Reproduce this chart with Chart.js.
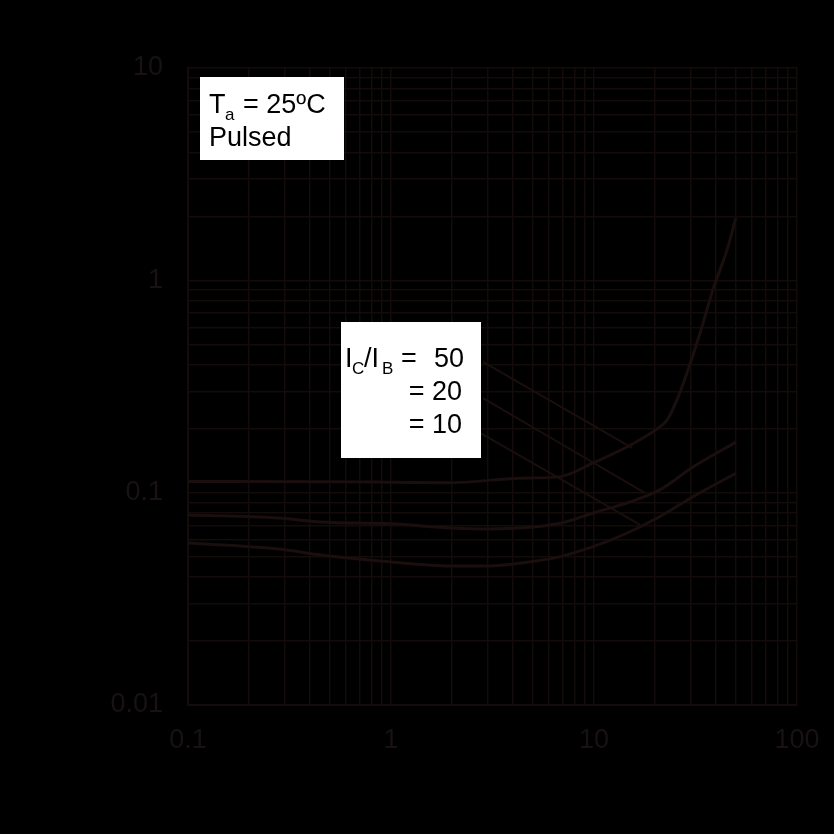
<!DOCTYPE html>
<html>
<head>
<meta charset="utf-8">
<script src="https://cdn.jsdelivr.net/npm/chart.js@4/dist/chart.umd.min.js"></script>
<style>
  html, body { margin: 0; padding: 0; background: #000; }
  #wrap { width: 834px; height: 834px; }
</style>
</head>
<body>
<div id="wrap"><canvas id="c" width="834" height="834"></canvas></div>
<script>
// ---- data ----
const xTickLabels = ['0.1', '1', '10', '100'];
const yTickLabels = ['0.01', '0.1', '1', '10'];

const ic50_x = [0.1, 0.45, 1, 2, 4.3, 6.8, 9.9, 14.5, 21.1, 22.9, 25.6, 28.7, 33.3, 38.5, 45.2, 50];
const ic50_y = [0.113, 0.1125, 0.112, 0.1115, 0.117, 0.119, 0.138, 0.164, 0.204, 0.220, 0.273, 0.366, 0.565, 0.901, 1.39, 1.97];

const ic20_x = [0.1, 0.28, 0.45, 1, 2, 3, 6.8, 9.9, 14.5, 21.1, 30.7, 50];
const ic20_y = [0.0785, 0.076, 0.0728, 0.0713, 0.0682, 0.0675, 0.0717, 0.0802, 0.0894, 0.103, 0.132, 0.173];

const ic10_x = [0.1, 0.28, 0.45, 0.88, 2, 3, 5.2, 6.8, 9.9, 14.5, 21.1, 30.7, 50];
const ic10_y = [0.058, 0.0543, 0.0509, 0.0477, 0.0452, 0.0452, 0.0477, 0.050, 0.0557, 0.0644, 0.0771, 0.0957, 0.1234];

// leader lines from the label box to each curve
const lead50_x = [2.84, 15.4];  const lead50_y = [0.413, 0.1624];
const lead20_x = [2.84, 17.8];  const lead20_y = [0.279, 0.0997];
const lead10_x = [2.71, 16.9];  const lead10_y = [0.193, 0.0705];

// ---- helpers ----
const pts = (xs, ys) => xs.map((x, i) => ({ x: x, y: ys[i] }));
const xMajors = xTickLabels.map(parseFloat);
const yMajors = yTickLabels.map(parseFloat);
function gridValues(majors) {
  const out = [];
  for (let d = 0; d < majors.length - 1; d++) {
    for (let k = 1; k <= 9; k++) out.push(+(majors[d] * k).toPrecision(6));
  }
  out.push(majors[majors.length - 1]);
  return out;
}
function labelFor(v, majors, labels) {
  const i = majors.findIndex(t => Math.abs(t - v) / t < 1e-6);
  return i >= 0 ? labels[i] : '';
}

const curveColor = 'rgb(26,14,14)';
const gridColor = 'rgb(20,11,11)';
const textColor = 'rgb(24,18,18)';
const FONT = '"Liberation Sans", Arial, sans-serif';

const bgPlugin = {
  id: 'bg',
  beforeDraw(chart) {
    const ctx = chart.ctx;
    ctx.save();
    ctx.fillStyle = '#000';
    ctx.fillRect(0, 0, chart.width, chart.height);
    ctx.restore();
  }
};

const notePlugin = {
  id: 'notes',
  afterDatasetsDraw(chart) {
    const ctx = chart.ctx;
    ctx.save();
    // box 1
    ctx.fillStyle = '#fff';
    ctx.fillRect(200, 77, 144, 83);
    ctx.fillStyle = '#000';
    ctx.textBaseline = 'alphabetic';
    ctx.textAlign = 'left';
    ctx.font = '27px ' + FONT;
    ctx.fillText('T', 209, 113);
    ctx.font = '17px ' + FONT;
    ctx.fillText('a', 225, 120);
    ctx.font = '27px ' + FONT;
    ctx.fillText('= 25ºC', 243, 113);
    ctx.fillText('Pulsed', 209, 146);

    // box 2
    ctx.fillStyle = '#fff';
    ctx.fillRect(341, 322, 140, 136);
    ctx.fillStyle = '#000';
    ctx.font = '27px ' + FONT;
    ctx.fillText('I', 345, 367);
    ctx.font = '17px ' + FONT;
    ctx.fillText('C', 352, 374);
    ctx.font = '27px ' + FONT;
    ctx.fillText('/I', 364, 367);
    ctx.font = '17px ' + FONT;
    ctx.fillText('B', 382, 374);
    ctx.font = '27px ' + FONT;
    ctx.fillText('=', 401, 367);
    ctx.textAlign = 'right';
    ctx.fillText('50', 464, 367);
    ctx.fillText('= 20', 462, 400);
    ctx.fillText('= 10', 462, 433);
    ctx.restore();
  }
};

const lineDs = (label, data, width) => ({
  label: label,
  data: data,
  borderColor: curveColor,
  backgroundColor: curveColor,
  borderWidth: width,
  pointRadius: 0,
  fill: false,
  cubicInterpolationMode: 'monotone'
});

new Chart(document.getElementById('c'), {
  type: 'line',
  data: {
    datasets: [
      lineDs('IC/IB = 50', pts(ic50_x, ic50_y), 3),
      lineDs('IC/IB = 20', pts(ic20_x, ic20_y), 3),
      lineDs('IC/IB = 10', pts(ic10_x, ic10_y), 3),
      lineDs('lead 50', pts(lead50_x, lead50_y), 2),
      lineDs('lead 20', pts(lead20_x, lead20_y), 2),
      lineDs('lead 10', pts(lead10_x, lead10_y), 2)
    ]
  },
  options: {
    responsive: false,
    animation: false,
    devicePixelRatio: 1,
    layout: { padding: { top: 68, right: 37, bottom: 0, left: 0 } },
    plugins: { legend: { display: false }, tooltip: { enabled: false } },
    scales: {
      x: {
        type: 'logarithmic',
        min: xMajors[0],
        max: xMajors[xMajors.length - 1],
        afterBuildTicks(scale) { scale.ticks = gridValues(xMajors).map(v => ({ value: v })); },
        afterFit(scale) { scale.height = 129; scale.paddingLeft = 0; scale.paddingRight = 0; },
        grid: { color: gridColor, lineWidth: 1.5, drawTicks: false },
        border: { color: gridColor, width: 2 },
        ticks: {
          autoSkip: false, maxRotation: 0, padding: 19,
          color: textColor, font: { family: FONT, size: 27 },
          callback: (v) => labelFor(v, xMajors, xTickLabels)
        }
      },
      y: {
        type: 'logarithmic',
        min: yMajors[0],
        max: yMajors[yMajors.length - 1],
        afterBuildTicks(scale) { scale.ticks = gridValues(yMajors).map(v => ({ value: v })); },
        afterFit(scale) { scale.width = 188; scale.paddingTop = 0; scale.paddingBottom = 0; },
        grid: { color: gridColor, lineWidth: 1.5, drawTicks: false },
        border: { color: gridColor, width: 2 },
        ticks: {
          autoSkip: false, padding: 25,
          color: textColor, font: { family: FONT, size: 27 },
          callback: (v) => labelFor(v, yMajors, yTickLabels)
        }
      }
    }
  },
  plugins: [bgPlugin, notePlugin]
});
</script>
</body>
</html>
